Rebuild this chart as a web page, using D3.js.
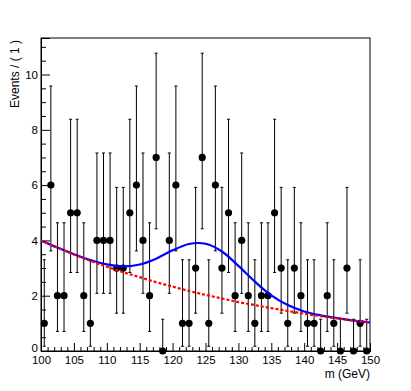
<!DOCTYPE html>
<html><head><meta charset="utf-8">
<script src="https://cdn.jsdelivr.net/npm/d3@7"></script>
<style>body{margin:0;background:#fff}svg{display:block}</style>
</head><body>
<svg id="c" width="411" height="391"></svg>
<script>
// bin centres (GeV)
const binCenters = [100.5,101.5,102.5,103.5,104.5,105.5,106.5,107.5,108.5,109.5,
  110.5,111.5,112.5,113.5,114.5,115.5,116.5,117.5,118.5,119.5,
  120.5,121.5,122.5,123.5,124.5,125.5,126.5,127.5,128.5,129.5,
  130.5,131.5,132.5,133.5,134.5,135.5,136.5,137.5,138.5,139.5,
  140.5,141.5,142.5,143.5,144.5,145.5,146.5,147.5,148.5,149.5];
// events per bin
const counts = [1,6,2,2,5,5,2,1,4,4,
  4,3,3,5,6,4,2,7,0,4,
  6,1,1,3,7,1,6,3,5,2,
  4,2,1,2,2,5,3,1,3,2,
  1,1,0,2,1,0,3,0,1,0];
// Poisson error table indexed by count (lower, upper)
const poissonLow  = [0, 0.827, 1.292, 1.633, 1.914, 2.159, 2.379, 2.580];
const poissonHigh = [1.148, 2.299, 2.637, 2.918, 3.162, 3.382, 3.583, 3.770];
// fitted curves
const curveMass = [100,102.5,105,107.5,110,112.5,115,117.5,120,122.5,125,127.5,130,132.5,135,137.5,140,142.5,145,147.5,150];
const totalCurve = [4.00,3.74,3.50,3.29,3.13,3.06,3.13,3.34,3.64,3.87,3.88,3.60,3.08,2.51,2.01,1.66,1.43,1.29,1.19,1.10,1.03];
const bkgCurve   = [4.00,3.74,3.49,3.26,3.05,2.85,2.67,2.49,2.33,2.17,2.03,1.90,1.77,1.66,1.55,1.45,1.35,1.26,1.18,1.10,1.03];
const xTicks = [100,105,110,115,120,125,130,135,140,145,150];
const yTicks = [0,2,4,6,8,10];
const xTitle = "m (GeV)";
const yTitle = "Events / ( 1 )";

const L=41, R=370, T=38, B=351;
const FONT = "'Liberation Sans', Arial, Helvetica, sans-serif";
const svg = d3.select("#c");
const x = d3.scaleLinear().domain([100,150]).range([L,R]);
const y = d3.scaleLinear().domain([0,11.32]).range([B,T]);

// frame
svg.append("rect").attr("x",L).attr("y",T).attr("width",R-L).attr("height",B-T)
  .attr("fill","none").attr("stroke","#000").attr("stroke-width",1);

// x axis
const xMinor = d3.range(100,151,1).filter(v=>v%5!==0);
const gx = svg.append("g").attr("transform",`translate(0,${B})`);
gx.call(d3.axisBottom(x).tickValues(xTicks).tickSize(-8).tickPadding(5).tickFormat(d3.format("d")));
gx.append("g").call(d3.axisBottom(x).tickValues(xMinor).tickSize(-4).tickFormat(""));
gx.selectAll(".domain").attr("stroke","#000");
gx.selectAll("text").attr("font-family",FONT).attr("font-size",11.5).attr("fill","#000");

// y axis
const yMinor = d3.range(0,11.3,0.5).filter(v=>v%2!==0);
const gy = svg.append("g").attr("transform",`translate(${L},0)`);
gy.call(d3.axisLeft(y).tickValues(yTicks).tickSize(-9).tickPadding(3).tickFormat(d3.format("d")));
gy.append("g").call(d3.axisLeft(y).tickValues(yMinor).tickSize(-5).tickFormat(""));
gy.selectAll(".domain").attr("stroke","#000");
gy.selectAll("text").attr("font-family",FONT).attr("font-size",11.5).attr("fill","#000");
gy.selectAll(".tick text").filter(d=>d===0).attr("dy","0.05em");

// titles
svg.append("text").attr("x",R).attr("y",378).attr("text-anchor","end")
  .attr("font-family",FONT).attr("font-size",12).text(xTitle);
svg.append("text").attr("transform",`translate(19,40) rotate(-90)`).attr("text-anchor","end")
  .attr("font-family",FONT).attr("font-size",12).text(yTitle);

// data
const data = binCenters.map((m,i)=>({m, n:counts[i], lo:counts[i]-poissonLow[counts[i]], hi:counts[i]+poissonHigh[counts[i]]}));
const ge = svg.append("g").attr("stroke","#000").attr("stroke-width",1);
ge.selectAll("line.bar").data(data).join("line").attr("class","bar")
  .attr("x1",d=>x(d.m)).attr("x2",d=>x(d.m)).attr("y1",d=>y(d.lo)).attr("y2",d=>y(d.hi));
ge.selectAll("line.capt").data(data).join("line").attr("class","capt")
  .attr("x1",d=>x(d.m)-1.5).attr("x2",d=>x(d.m)+1.5).attr("y1",d=>y(d.hi)).attr("y2",d=>y(d.hi));
ge.selectAll("line.capb").data(data.filter(d=>d.n>0)).join("line").attr("class","capb")
  .attr("x1",d=>x(d.m)-1.5).attr("x2",d=>x(d.m)+1.5).attr("y1",d=>y(d.lo)).attr("y2",d=>y(d.lo));
svg.append("g").selectAll("circle").data(data).join("circle")
  .attr("cx",d=>x(d.m)).attr("cy",d=>y(d.n)).attr("r",3.6).attr("fill","#000");

// curves
const line = d3.line().x(d=>x(d[0])).y(d=>y(d[1])).curve(d3.curveCatmullRom);
svg.append("path").datum(curveMass.map((m,i)=>[m,totalCurve[i]]))
  .attr("d",line).attr("fill","none").attr("stroke","#0000ff").attr("stroke-width",2.2);
svg.append("path").datum(curveMass.map((m,i)=>[m,bkgCurve[i]]))
  .attr("d",line).attr("fill","none").attr("stroke","#ff0000").attr("stroke-width",2.2)
  .attr("stroke-dasharray","3,2");
</script>
</body></html>
